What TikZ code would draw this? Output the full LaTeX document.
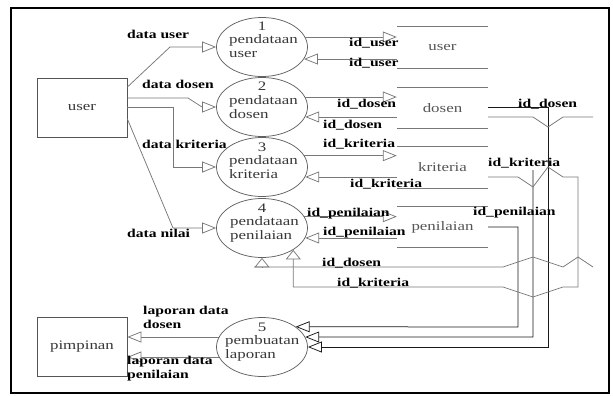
\documentclass[tikz,border=0pt]{standalone}
\usepackage{fontspec}
\setmainfont{Liberation Serif}[FakeStretch=1.3]
\usetikzlibrary{arrows.meta,shapes.geometric,calc}
\definecolor{ln}{RGB}{120,120,120}
\definecolor{dk}{RGB}{25,25,25}
\definecolor{tx}{RGB}{55,55,55}
\definecolor{stx}{RGB}{85,85,85}
\begin{document}
\begin{tikzpicture}[x=1pt,y=-1pt,
  ha/.style={-{Triangle[open,length=14pt,width=11pt]}},
  va/.style={-{Triangle[open,length=9.5pt,width=15pt]}},
  flow/.style={draw=ln,line width=0.75pt},
  dflow/.style={draw=dk,line width=0.75pt},
  entity/.style={draw=ln!70!black,line width=0.8pt,rectangle,minimum width=90pt,minimum height=59pt,inner sep=0pt,text=tx,font=\fontsize{13}{15}\selectfont},
  proc/.style={draw=ln!80!black,line width=0.75pt,ellipse,minimum width=91pt,minimum height=59pt,inner sep=0pt},
  ptxt/.style={inner sep=0pt,text=tx,font=\fontsize{13}{15}\selectfont},
  store/.style={rectangle,minimum width=91pt,minimum height=41pt,inner sep=0pt,text=stx,font=\fontsize{13}{15}\selectfont},
  storeline/.style={draw=ln,line width=0.75pt},
  lbl/.style={inner sep=0pt,anchor=west,text=black,font=\fontsize{12}{13.5}\selectfont\bfseries},
]
\useasboundingbox (0,0) rectangle (613,396);
\draw[line width=1.6pt] (11,8) rectangle (609,393);

% external entities
\node[entity] (user) at (82,107.5) {user};
\node[entity] (pimpinan) at (82,347) {pimpinan};

% processes
\node[proc] (p1) at (262,47) {};
\node[proc] (p2) at (262,107) {};
\node[proc] (p3) at (262,167) {};
\node[proc] (p4) at (262,228) {};
\node[proc] (p5) at (262,347) {};

\node[ptxt,anchor=base] (n1) at (262,31) {1};
\node[ptxt,anchor=base west] (a1) at (229,44) {pendataan};
\node[ptxt,anchor=base west] (b1) at (229,58) {user};
\node[ptxt,anchor=base] (n2) at (262,91) {2};
\node[ptxt,anchor=base west] (a2) at (229,104) {pendataan};
\node[ptxt,anchor=base west] (b2) at (229,118) {dosen};
\node[ptxt,anchor=base] (n3) at (262,151) {3};
\node[ptxt,anchor=base west] (a3) at (229,164) {pendataan};
\node[ptxt,anchor=base west] (b3) at (229,178) {kriteria};
\node[ptxt,anchor=base] (n4) at (262,212) {4};
\node[ptxt,anchor=base west] (a4) at (230,225) {pendataan};
\node[ptxt,anchor=base west] (b4) at (230,239) {penilaian};
\node[ptxt,anchor=base] (n5) at (262,331) {5};
\node[ptxt,anchor=base west] (a5) at (225,344) {pembuatan};
\node[ptxt,anchor=base west] (b5) at (225,358) {laporan};

% data stores
\node[store] (s1) at (442.5,47.5) {user};
\node[store] (s2) at (442.5,108) {dosen};
\node[store] (s3) at (442.5,167.5) {kriteria};
\node[store] (s4) at (442.5,227) {penilaian};
\foreach \s in {s1,s2,s3,s4}{
  \draw[storeline] (\s.north west) -- (\s.north east) (\s.south west) -- (\s.south east);
}

% user -> processes
\draw[flow,ha] (user.east |- 0,87) -- (170,47) -- (p1.west);
\draw[flow,ha] (user.east |- 0,98) -- (188,98) -- (202,107) -- (p2.west);
\draw[flow,ha] (user.east |- 0,107) -- (173,107) -- (173,167) -- (p3.west);
\draw[flow,ha] (user.east |- 0,119) -- (173,228) -- (p4.west);

% processes <-> stores
\draw[flow,ha] (p1.13) -- (p1.13 -| s1.west);
\draw[flow,ha] (s1.west |- p1.-16) -- (p1.-16);
\draw[flow,ha] (p2.13) -- (p2.13 -| s2.west);
\draw[flow,ha] (s2.west |- p2.-13) -- (p2.-13);
\draw[flow,ha] (p3.15) -- (p3.15 -| s3.west);
\draw[flow,ha] (s3.west |- p3.-13) -- (p3.-13);
\draw[flow,ha] (p4.15) -- (p4.15 -| s4.west);
\draw[flow,ha] (s4.west |- p4.-13) -- (p4.-13);

% report process -> pimpinan
\draw[flow,ha] (p5.167) -- (p5.167 -| pimpinan.east);
\draw[flow,ha] (p5.-167) -- (p5.-167 -| pimpinan.east);

% stores -> report process
\coordinate (kj) at (533,170);
\draw[dflow,ha] (s2.east |- 0,107) -- (548,107) -- (548,347) -- (p5.east);
\draw[dflow,ha] (kj) -- (533,337) -- (p5.13);
\draw[dflow,ha] (s4.east) -- (518,227) -- (518,327) -- (p5.31);

% kriteria -> pendataan penilaian
\draw[flow,va] (s3.east |- 0,177) -- (518,177) -- (533,187) -- (548,167) -- (563,177) -- (578,177)
  -- (578,287) -- (563,287) -- (533,297) -- (503,287) -- (p4.-35 |- 0,287) -- (p4.-35);

% dosen -> pendataan penilaian
\coordinate (dj1) at (593,117);
\coordinate (dj2) at (593,267);
\coordinate (dj3) at (254,267);
\draw[flow] (s2.east |- 0,117) -- (533,117) -- (548,127) -- (563,117) -- (dj1);
\draw[flow] (dj2) -- (578,257) -- (563,267) -- (533,257) -- (503,267) -- (dj3);
\draw[flow,va] (p4.south |- 0,267) -- (p4.south);

% labels
\node[lbl] (l1) at (127,34) {data user};
\node[lbl] (l2) at (142,84) {data dosen};
\node[lbl] (l3) at (142,144) {data kriteria};
\node[lbl] (l4) at (127,233) {data nilai};
\node[lbl] (l5) at (349,43) {id\_user};
\node[lbl] (l6) at (349,63) {id\_user};
\node[lbl] (l7) at (337,104) {id\_dosen};
\node[lbl] (l8) at (323,125) {id\_dosen};
\node[lbl] (l9) at (323,144) {id\_kriteria};
\node[lbl] (l10) at (350,184) {id\_kriteria};
\node[lbl] (l11) at (307,214) {id\_penilaian};
\node[lbl] (l12) at (323,233) {id\_penilaian};
\node[lbl] (l13) at (518,104) {id\_dosen};
\node[lbl] (l14) at (488,163) {id\_kriteria};
\node[lbl] (l15) at (473,213) {id\_penilaian};
\node[lbl] (l16) at (322,263) {id\_dosen};
\node[lbl] (l17) at (337,283) {id\_kriteria};
\node[lbl,align=left,anchor=north west] (l18) at (143,306) {laporan data\\dosen};
\node[lbl,align=left,anchor=north west] (l19) at (127,356) {laporan data\\penilaian};
\end{tikzpicture}
\end{document}
